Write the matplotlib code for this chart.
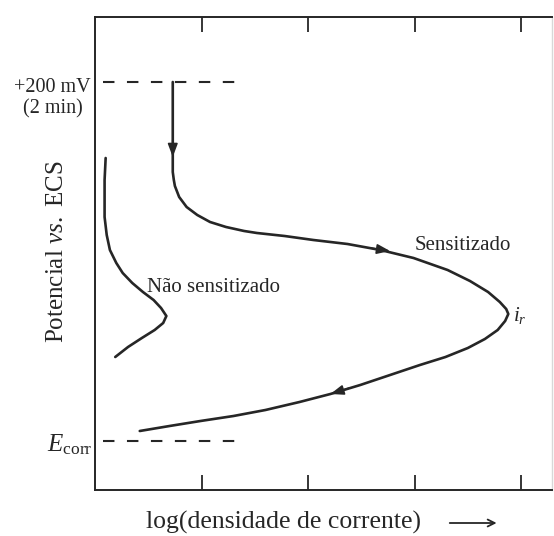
import matplotlib

matplotlib.use("Agg")
import matplotlib.pyplot as plt

# Polarization curves (x: log current density, decades; y: potential, arbitrary units)
sens_x = [0.73, 0.73, 0.73, 0.73, 0.74, 0.75, 0.79, 0.86, 0.96, 1.08, 1.23, 1.40,
          1.52, 1.78, 2.05, 2.37, 2.68, 2.99, 3.31, 3.52, 3.69, 3.80, 3.86, 3.88,
          3.85, 3.78, 3.66, 3.50, 3.29, 3.05, 2.77, 2.49, 2.21, 1.92, 1.60, 1.30,
          0.99, 0.70, 0.42]
sens_y = [4.08, 3.70, 3.30, 3.18, 3.10, 3.04, 2.93, 2.83, 2.75, 2.68, 2.63, 2.59,
          2.57, 2.54, 2.50, 2.46, 2.40, 2.32, 2.20, 2.09, 1.98, 1.88, 1.81, 1.76,
          1.69, 1.60, 1.51, 1.42, 1.33, 1.25, 1.15, 1.05, 0.96, 0.88, 0.80, 0.74,
          0.69, 0.64, 0.59]

nonsens_x = [0.10, 0.09, 0.09, 0.09, 0.11, 0.14, 0.20, 0.26, 0.35, 0.45, 0.55,
             0.62, 0.67, 0.64, 0.56, 0.44, 0.31, 0.19]
nonsens_y = [3.32, 3.10, 2.90, 2.73, 2.55, 2.40, 2.27, 2.17, 2.07, 1.98, 1.90,
             1.82, 1.74, 1.67, 1.60, 1.52, 1.43, 1.33]

# reference potentials
e_hold = 4.08   # +200 mV hold
e_corr = 0.49
ref_x = [0.075, 1.36]

# direction arrows: (tail, head)
arrows = [((0.73, 3.50), (0.73, 3.33)),
          ((2.58, 2.42), (2.77, 2.39)),
          ((2.39, 1.02), (2.21, 0.96))]

xticks = [1, 2, 3, 4]

ink = "#262626"
serif = ["Liberation Serif", "DejaVu Sans"]
plt.rcParams["font.family"] = serif
plt.rcParams["mathtext.fontset"] = "custom"
plt.rcParams["mathtext.rm"] = "Liberation Serif"
plt.rcParams["mathtext.it"] = "Liberation Serif:italic"

fig = plt.figure(figsize=(5.54, 5.36), dpi=100)
ax = fig.add_axes([95 / 554, 46 / 536, 457 / 554, 473 / 536])
ax.set_xlim(0, 4.29)
ax.set_ylim(0, 4.73)

line_kw = dict(color=ink, lw=1.9, solid_capstyle="round", solid_joinstyle="round")
ax.plot(sens_x, sens_y, **line_kw)
ax.plot(nonsens_x, nonsens_y, **line_kw)

for y in (e_hold, e_corr):
    ax.plot(ref_x, [y, y], color=ink, lw=1.5, dashes=(5.5, 6))

for tail, head in arrows:
    ax.annotate("", xy=head, xytext=tail,
                arrowprops=dict(arrowstyle="-|>,head_length=0.8,head_width=0.3",
                                color=ink, lw=1.2, shrinkA=0, shrinkB=0))

# frame: ticks point inward on top and bottom only
for side in ("left", "bottom", "top"):
    ax.spines[side].set_color(ink)
    ax.spines[side].set_linewidth(1.4)
ax.spines["right"].set_color("#d8d8d8")
ax.spines["right"].set_linewidth(1.0)
ax.set_xticks(xticks)
ax.set_yticks([])
ax.tick_params(axis="x", direction="in", top=True, bottom=True, length=11,
               width=1.3, color=ink, labelbottom=False)

ax.text(0.49, 2.02, "Não sensitizado", fontsize=15, color=ink, va="center")
ax.text(3.00, 2.45, "Sensitizado", fontsize=15, color=ink, va="center")
ax.text(3.92, 1.75, r"$i_r$", fontsize=15, color=ink, va="center")

ax.text(-0.04, 4.03, "+200 mV", fontsize=14.5, color=ink, ha="right",
        va="center", clip_on=False)
ax.text(-0.40, 3.81, "(2 min)", fontsize=14.5, color=ink, ha="center",
        va="center", clip_on=False)
ax.text(-0.02, 0.45, r"$E_{\mathrm{corr}}$", fontsize=18, color=ink,
        ha="right", va="center", clip_on=False)
ax.text(-0.36, 2.38, r"Potencial $vs.$ ECS", fontsize=18, color=ink,
        rotation=90, ha="center", va="center", clip_on=False)
ax.text(0.48, -0.32, "log(densidade de corrente)", fontsize=18.5,
        color=ink, ha="left", va="center", clip_on=False)
ax.annotate("", xy=(3.77, -0.33), xytext=(3.33, -0.33),
            arrowprops=dict(arrowstyle="->,head_length=0.5,head_width=0.25",
                            color=ink, lw=1.3, shrinkA=0, shrinkB=0),
            annotation_clip=False)

fig.savefig("out.png", dpi=100)
